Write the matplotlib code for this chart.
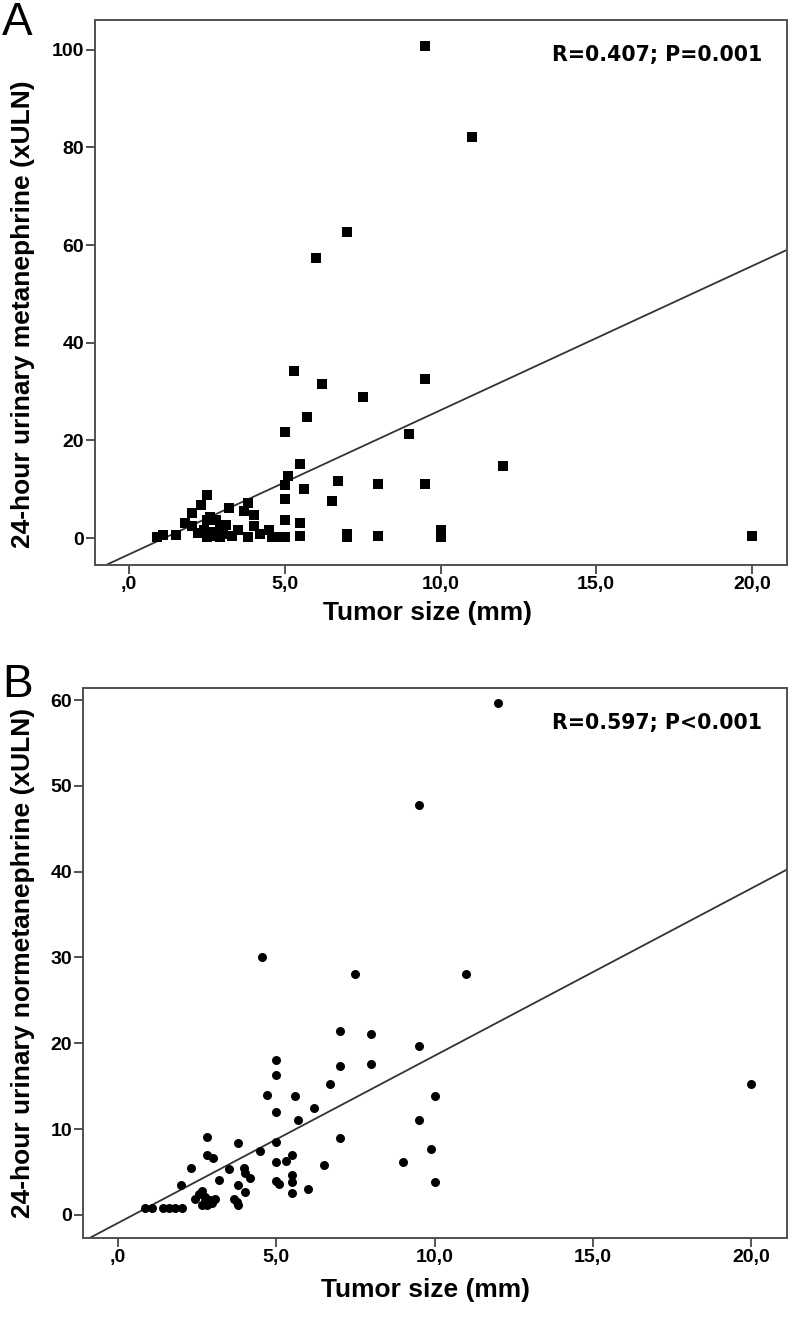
import numpy as np
import matplotlib
matplotlib.use("Agg")
import matplotlib.pyplot as plt

# panel A: tumor size (mm) vs 24-h urinary metanephrine (xULN)
size_a = [0.9, 1.1, 1.5, 1.8, 2.0, 2.3, 2.5, 2.0, 2.6, 2.5, 2.8, 2.4, 2.5, 2.7,
          2.8, 2.9, 3.0, 3.1, 2.9, 3.2, 3.5, 3.7, 3.8, 4.0, 4.0, 3.8, 4.2, 4.5,
          4.6, 4.8, 5.0, 5.0, 5.0, 5.0, 5.1, 5.0, 5.3, 5.5, 5.6, 5.5, 5.5, 5.7,
          6.0, 6.2, 6.5, 6.7, 7.0, 7.0, 7.0, 7.5, 8.0, 8.0, 9.0, 9.5, 9.5, 9.5,
          10.0, 10.0, 11.0, 12.0, 20.0, 2.2, 2.6, 3.3]
met_a = [0.3, 0.6, 0.6, 3.1, 5.1, 6.8, 8.8, 2.5, 4.4, 3.7, 3.7, 1.6, 0.3, 0.4,
         1.0, 0.3, 0.8, 2.7, 2.2, 6.1, 1.6, 5.6, 7.2, 4.8, 2.5, 0.3, 0.8, 1.7,
         0.3, 0.3, 0.3, 3.7, 8.0, 10.9, 12.8, 21.7, 34.2, 15.2, 10.0, 3.0, 0.4, 24.9,
         57.4, 31.6, 7.6, 11.7, 0.3, 0.9, 62.7, 28.8, 11.0, 0.4, 21.4, 32.6, 11.0, 100.8,
         1.6, 0.3, 82.2, 14.8, 0.4, 1.0, 1.2, 0.5]
fit_a = (2.95, -3.3)   # slope, intercept of the drawn fit line
text_a = "R=0.407; P=0.001"

# panel B: tumor size (mm) vs 24-h urinary normetanephrine (xULN)
size_b = [0.86, 1.07, 1.42, 1.6, 1.81, 2.02, 2.0, 2.3, 2.44, 2.55, 2.65, 2.65, 2.76,
          2.76, 2.8, 2.81, 2.81, 2.92, 2.97, 3.0, 3.07, 3.2, 3.5, 3.68, 3.76, 3.81,
          3.81, 3.81, 3.97, 4.02, 4.02, 4.18, 4.5, 4.55, 4.7, 5.0, 5.0, 5.0, 5.0,
          5.0, 5.0, 5.1, 5.3, 5.5, 5.5, 5.5, 5.5, 5.6, 5.7, 6.0, 6.2, 6.5, 6.7,
          7.0, 7.0, 7.0, 7.5, 8.0, 8.0, 9.0, 9.5, 9.5, 9.5, 9.9, 10.0, 10.0, 11.0,
          12.0, 20.0]
nmet_b = [0.8, 0.8, 0.8, 0.8, 0.8, 0.8, 3.5, 5.5, 1.8, 2.4, 2.8, 1.2, 2.1,
          1.6, 9.1, 7.0, 1.2, 1.7, 1.4, 6.6, 1.8, 4.1, 5.3, 1.9, 1.5, 8.4,
          3.5, 1.2, 5.4, 4.9, 2.7, 4.3, 7.4, 30.1, 14.0, 18.1, 16.3, 12.0, 8.5,
          6.2, 3.9, 3.6, 6.3, 7.0, 4.6, 3.8, 2.5, 13.8, 11.0, 3.0, 12.4, 5.8, 15.2,
          21.4, 17.4, 8.9, 28.1, 21.1, 17.6, 6.1, 47.8, 19.7, 11.1, 7.7, 13.8, 3.8, 28.1,
          59.7, 15.2]
fit_b = (1.95, -0.96)
text_b = "R=0.597; P<0.001"

xticks = [0, 5, 10, 15, 20]
xticklabels = [",0", "5,0", "10,0", "15,0", "20,0"]

W, H = 793, 1323
fig = plt.figure(figsize=(W / 100, H / 100), dpi=100)
tick_font = dict(family="Liberation Sans", weight="bold", size=14)
label_font = dict(family="Liberation Sans", weight="bold", size=19)


def panel(box, xs, ys, marker, fit, ylim, yticks, ylabel, note, letter, letter_y,
          ylab_pos, xlab_pos):
    l, t, r, b = box
    ax = fig.add_axes([l / W, 1 - b / H, (r - l) / W, (b - t) / H])
    ax.scatter(xs, ys, marker=marker, s=42, c="black", linewidths=0, zorder=3)
    xl = (-1.1, 21.13)
    xx = np.array(xl)
    ax.plot(xx, fit[0] * xx + fit[1], color="#333333", lw=1.3, zorder=2)
    ax.set_xlim(xl)
    ax.set_ylim(ylim)
    ax.set_xticks(xticks)
    ax.set_xticklabels(xticklabels, fontdict=tick_font)
    ax.set_yticks(yticks)
    ax.set_yticklabels([str(v) for v in yticks], fontdict=tick_font)
    ax.tick_params(direction="out", length=6.5, width=1.3, color="#444444", pad=1.5)
    for s in ax.spines.values():
        s.set_color("#505050")
        s.set_linewidth(1.4)
    ax.set_xlabel("Tumor size (mm)", fontdict=label_font)
    ax.xaxis.set_label_coords(*xlab_pos)
    ax.set_ylabel(ylabel, fontdict=label_font)
    ax.yaxis.set_label_coords(*ylab_pos)
    ax.text(0.964, 0.936, note, transform=ax.transAxes, ha="right", va="center",
            family="DejaVu Sans", weight="bold", size=14.8)
    fig.text(2 / W, 1 - letter_y / H, letter, ha="left", va="top",
             family="Liberation Sans", size=33)
    return ax


panel((95, 20, 787, 565), size_a, met_a, "s", fit_a, (-5.5, 106.1),
      [0, 20, 40, 60, 80, 100], "24-hour urinary metanephrine (xULN)",
      text_a, "A", 1, (-0.087, 0.46), (0.48, -0.066))
panel((83, 688, 787, 1238), size_b, nmet_b, "o", fit_b, (-2.7, 61.4),
      [0, 10, 20, 30, 40, 50, 60], "24-hour urinary normetanephrine (xULN)",
      text_b, "B", 663, (-0.068, 0.5), (0.486, -0.073))

fig.savefig("out.png", dpi=100)
